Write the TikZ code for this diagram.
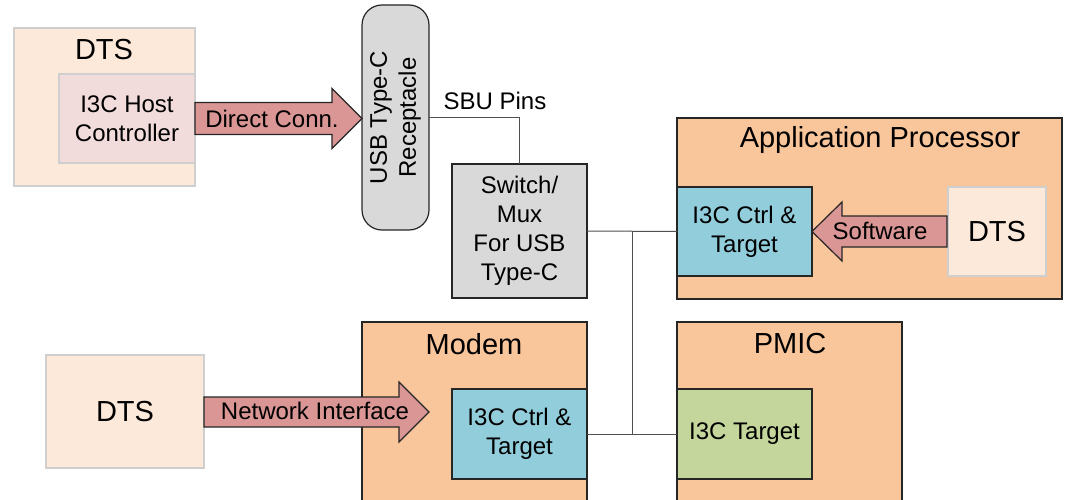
\documentclass[tikz,border=0pt]{standalone}
\usepackage{fontspec}
\setmainfont{Liberation Sans}
\definecolor{peach}{HTML}{FDE9DA}
\definecolor{pinkbox}{HTML}{F2DCDB}
\definecolor{orangebox}{HTML}{F9C59B}
\definecolor{bluebox}{HTML}{92CDDC}
\definecolor{greenbox}{HTML}{C4D69C}
\definecolor{graybox}{HTML}{D9D9D9}
\definecolor{arrowfill}{HTML}{D99694}
\definecolor{lightedge}{HTML}{CFCFCF}
\definecolor{darkedge}{HTML}{262626}
\definecolor{connline}{HTML}{505050}
\tikzset{
  box/.style={rectangle, inner sep=0pt, outer sep=0pt, anchor=north west, align=center,
    font=\fontsize{24}{29}\selectfont},
  lightbox/.style={box, draw=lightedge, line width=1.2pt},
  darkbox/.style={box, draw=darkedge, line width=1.2pt},
  bigtxt/.style={inner sep=0pt, font=\fontsize{29}{34}\selectfont},
  smalltxt/.style={inner sep=0pt, font=\fontsize{24}{29}\selectfont},
  conn/.style={draw=connline, line width=1pt},
  blockarrow/.style={fill=arrowfill, draw=darkedge, line width=1.2pt, line join=miter},
}
\begin{document}
\begin{tikzpicture}[x=1pt,y=-1pt]
\useasboundingbox (0,0) rectangle (1077,500);
\clip (0,0) rectangle (1077,500);

% top-left DTS with I3C host controller
\node[lightbox, fill=peach, minimum width=181pt, minimum height=158pt] (dtsa) at (14,28) {};
\node[bigtxt] (dtsalbl) at (104,50) {DTS};
\node[lightbox, fill=pinkbox, minimum width=136pt, minimum height=89pt] (host) at (59,74) {I3C Host\\Controller};

% USB Type-C receptacle
\node[darkbox, fill=graybox, rounded corners=20pt, minimum width=67pt, minimum height=225pt] (rec) at (362,5) {};
\node[smalltxt, rotate=90, align=center] (reclbl) at (rec.center) {USB Type-C\\Receptacle};

% Direct Conn. arrow
\coordinate (da0) at (195,118.5);
\path[blockarrow] (195,102.5) -- (332,102.5) -- (332,88.5) -- (362,118.5) -- (332,148.5)
  -- (332,134.5) -- (195,134.5) -- cycle;
\node[smalltxt] (dalbl) at (272,119) {Direct Conn.};

% SBU pins
\node[smalltxt] (sbu) at (495,101) {SBU Pins};

% Switch / Mux
\node[darkbox, fill=graybox, minimum width=135pt, minimum height=134pt] (sw) at (452,164) {Switch/\\Mux\\For USB\\Type-C};

% Application Processor
\node[darkbox, fill=orangebox, minimum width=385pt, minimum height=181pt] (ap) at (677,118) {};
\node[bigtxt] (aplbl) at (880,140) {Application Processor};
\node[darkbox, fill=bluebox, minimum width=135pt, minimum height=89pt] (apctl) at (677,187) {I3C Ctrl \&\\Target};
\node[lightbox, fill=peach, minimum width=98pt, minimum height=89pt, font=\fontsize{29}{34}\selectfont] (dtsb) at (948,187) {DTS};
\path[blockarrow] (947,216) -- (842,216) -- (842,202) -- (812,231.5) -- (842,261)
  -- (842,247) -- (947,247) -- cycle;
\node[smalltxt] (swlbl) at (880,231) {Software};

% Modem
\node[darkbox, fill=orangebox, minimum width=225pt, minimum height=200pt] (modem) at (362,322) {};
\node[bigtxt] (modemlbl) at (474,344) {Modem};
\node[darkbox, fill=bluebox, minimum width=135pt, minimum height=90pt] (mctl) at (452,389) {I3C Ctrl \&\\Target};

% PMIC
\node[darkbox, fill=orangebox, minimum width=225pt, minimum height=200pt] (pmic) at (677,322) {};
\node[bigtxt] (pmiclbl) at (790,344) {PMIC};
\node[darkbox, fill=greenbox, minimum width=135pt, minimum height=90pt] (ptgt) at (677,389) {I3C Target};

% bottom-left DTS
\node[lightbox, fill=peach, minimum width=158pt, minimum height=113pt, font=\fontsize{29}{34}\selectfont] (dtsc) at (46,355) {DTS};
\path[blockarrow] (204,397) -- (399,397) -- (399,382) -- (429,412) -- (399,442)
  -- (399,427) -- (204,427) -- cycle;
\node[smalltxt] (nilbl) at (315,411) {Network Interface};

% connectors
\draw[conn] (rec.east) -| (sw.north);
\draw[conn] (sw.east) -- (apctl.west);
\coordinate (bus) at (632,0);
\draw[conn] (bus |- sw.east) -- (bus |- mctl.east);
\draw[conn] (mctl.east) -- (ptgt.west);
\end{tikzpicture}
\end{document}
